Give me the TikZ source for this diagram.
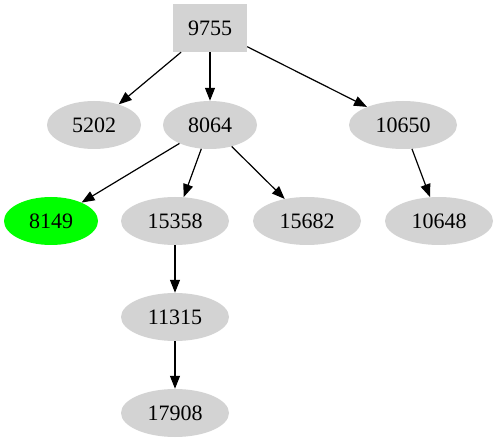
\documentclass[tikz,border=0pt]{standalone}
\usepackage{fontspec}
\setmainfont{Liberation Serif}
\usetikzlibrary{arrows.meta,shapes.geometric}
\definecolor{gvgray}{HTML}{D3D3D3}
\definecolor{gvgreen}{HTML}{00FF00}
\tikzset{
  base/.style={fill=gvgray, draw=none, inner sep=0pt, font=\fontsize{22}{26}\selectfont},
  boxnode/.style={base, rectangle, minimum width=74pt, minimum height=48pt},
  ellfour/.style={base, ellipse, minimum width=94pt, minimum height=48pt},
  ellfive/.style={base, ellipse, minimum width=108pt, minimum height=48pt},
  hit/.style={fill=gvgreen},
  edge/.style={draw=black, line width=1.2pt, -{Triangle[length=13pt,width=10pt]}},
}
\begin{document}
\begin{tikzpicture}[x=1pt,y=-1pt]
\useasboundingbox (0,0) rectangle (498,443);
\node[boxnode] (n9755) at (210,28) {9755};
\node[ellfour] (n5202) at (94,125) {5202};
\node[ellfour] (n8064) at (210,125) {8064};
\node[ellfive] (n10650) at (403,125) {10650};
\node[ellfour,hit] (n8149) at (51,221) {8149};
\node[ellfive] (n15358) at (175,221) {15358};
\node[ellfive] (n15682) at (307,221) {15682};
\node[ellfive] (n10648) at (439,221) {10648};
\node[ellfive] (n11315) at (175,317) {11315};
\node[ellfive] (n17908) at (175,413) {17908};
\draw[edge] (n9755) -- (n5202);
\draw[edge] (n9755) -- (n8064);
\draw[edge] (n9755) -- (n10650);
\draw[edge] (n8064) -- (n8149);
\draw[edge] (n8064) -- (n15358);
\draw[edge] (n8064) -- (n15682);
\draw[edge] (n10650) -- (n10648);
\draw[edge] (n15358) -- (n11315);
\draw[edge] (n11315) -- (n17908);
\end{tikzpicture}
\end{document}
